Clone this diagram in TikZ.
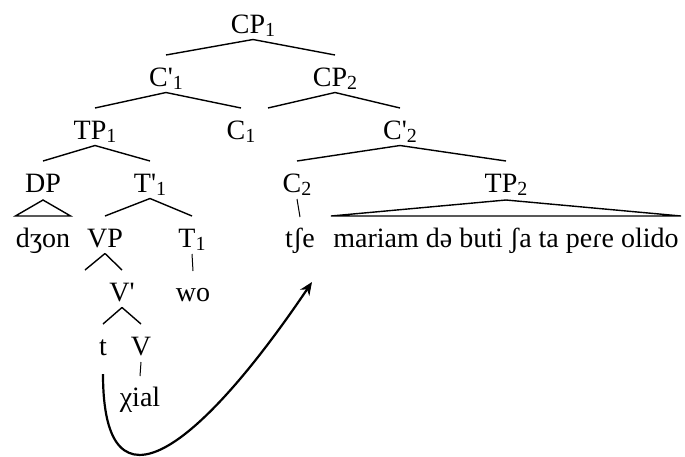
\documentclass[tikz,border=0pt]{standalone}
\usepackage{fontspec}
\setmainfont{Liberation Serif}[Ligatures=TeXOff]
\usetikzlibrary{arrows.meta}
\newcommand\idx[1]{\raisebox{-1.6pt}{\fontsize{10}{12}\selectfont #1}}

\begin{document}
\begin{tikzpicture}[x=0.5pt, y=-0.5pt,
    lbl/.style={inner sep=0pt, anchor=base, font=\fontsize{14}{16}\selectfont},
    branch/.style={line width=0.7pt},
    move/.style={line width=1.1pt, -{Stealth[length=6.5pt, width=5.5pt]}}]
  \useasboundingbox (0,0) rectangle (685,456);

  % labels, placed on their baselines
  \node[lbl] (cp1) at (253,33) {CP\idx{1}};
  \node[lbl] (cbar1) at (166,86) {C'\idx{1}};
  \node[lbl] (cp2) at (335,86) {CP\idx{2}};
  \node[lbl] (tp1) at (95,139) {TP\idx{1}};
  \node[lbl] (c1) at (241,139) {C\idx{1}};
  \node[lbl] (cbar2) at (400,139) {C'\idx{2}};
  \node[lbl] (dp) at (43,192) {DP};
  \node[lbl] (tbar1) at (150,192) {T'\idx{1}};
  \node[lbl] (c2) at (297,192) {C\idx{2}};
  \node[lbl] (tp2) at (506,192) {TP\idx{2}};
  \node[lbl] (dzon) at (43,247) {dʒon};
  \node[lbl] (vp) at (105,247) {VP};
  \node[lbl] (t1) at (192,247) {T\idx{1}};
  \node[lbl] (tse) at (300,247) {tʃe};
  \node[lbl] (clause) at (506,247) {mariam də buti ʃa ta peɾe olido};
  \node[lbl] (vbar) at (122,301) {V'};
  \node[lbl] (wo) at (193,301) {wo};
  \node[lbl] (t) at (103,355) {t};
  \node[lbl] (v) at (141,355) {V};
  \node[lbl] (xial) at (140,406) {χial};

  % empty specifiers
  \coordinate (spec2) at (268,108);
  \coordinate (vpspec) at (85,270);
  \coordinate (land) at (312,282);

  % branches
  \foreach \p/\c in {cp1/cbar1, cp1/cp2, cbar1/tp1, cbar1/c1, cp2/cbar2,
      tp1/dp, tp1/tbar1, cbar2/c2, cbar2/tp2, tbar1/vp, tbar1/t1, vp/vbar,
      vbar/t, vbar/v}
    \draw[branch] ([yshift=-3.25pt]\p.base) -- ([yshift=15.5pt]\c.base);
  \draw[branch] ([yshift=-3.25pt]cp2.base) -- (spec2);
  \draw[branch] ([yshift=-3.25pt]vp.base) -- (vpspec);

  \foreach \p/\c in {c2/tse, t1/wo, v/xial}
    \draw[line width=0.5pt] ([yshift=-3.5pt]\p.base) -- ([yshift=15pt]\c.base);

  % triangles
  \draw[branch] ([yshift=-4pt]dp.base) -- ([yshift=15.5pt]dzon.base west)
    -- ([yshift=15.5pt]dzon.base east) -- cycle;
  \draw[branch] ([yshift=-4pt]tp2.base) -- ([xshift=-1pt, yshift=15.5pt]clause.base west)
    -- ([xshift=1pt, yshift=15.5pt]clause.base east) -- cycle;

  % movement
  \draw[move] ([yshift=-9.5pt]t.base) .. controls +(0,150) and +(-112,166) .. (land);
\end{tikzpicture}
\end{document}
